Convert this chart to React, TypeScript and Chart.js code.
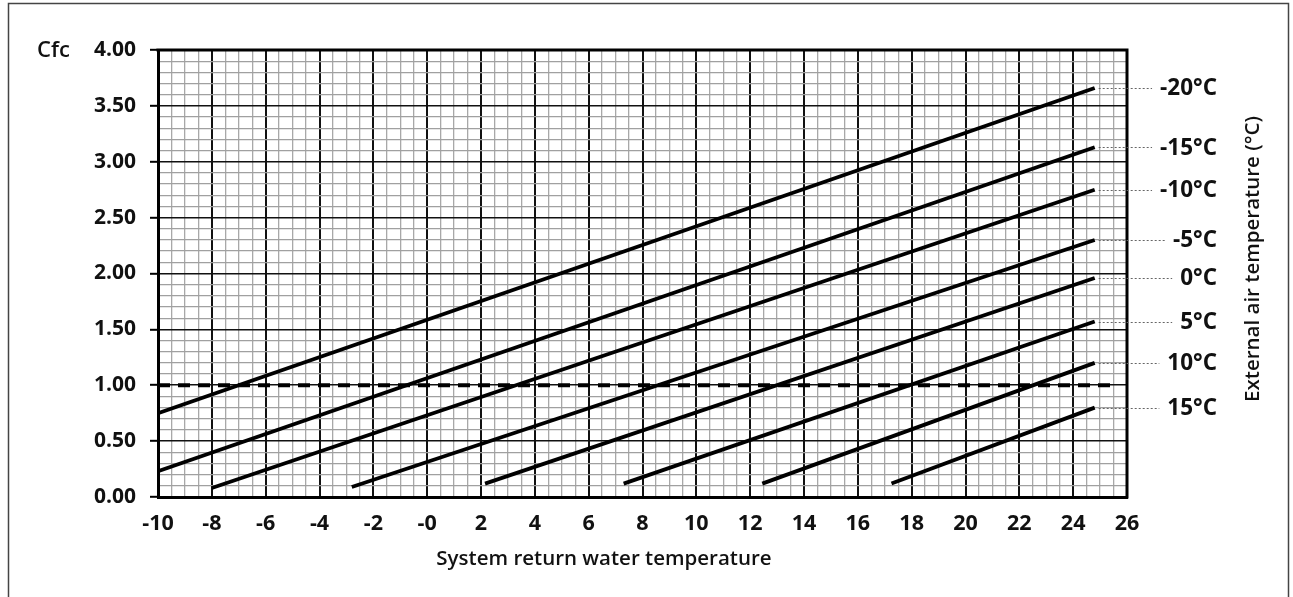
import React, { useEffect, useRef } from 'react';
import { Chart, registerables } from 'chart.js';

Chart.register(...registerables);

// ---- Data ----
const seriesNames = ['-20°C', '-15°C', '-10°C', '-5°C', '0°C', '5°C', '10°C', '15°C'];
const startX = [-10, -10, -8, -2.8, 2.15, 7.3, 12.45, 17.25];
const startY = [0.75, 0.23, 0.08, 0.09, 0.12, 0.12, 0.12, 0.12];
const endX = [24.8, 24.8, 24.8, 24.8, 24.8, 24.8, 24.8, 24.8];
const endY = [3.66, 3.13, 2.75, 2.3, 1.96, 1.57, 1.2, 0.8];

const refLineX = [-10, 25.5];
const refLineY = [1.0, 1.0];

const xTickValues = [-10, -8, -6, -4, -2, 0, 2, 4, 6, 8, 10, 12, 14, 16, 18, 20, 22, 24, 26];
const xTickLabels = ['-10', '-8', '-6', '-4', '-2', '-0', '2', '4', '6', '8', '10', '12', '14', '16', '18', '20', '22', '24', '26'];
const yTickValues = [0, 0.5, 1, 1.5, 2, 2.5, 3, 3.5, 4];
const yTickLabels = ['0.00', '0.50', '1.00', '1.50', '2.00', '2.50', '3.00', '3.50', '4.00'];

const xTitle = 'System return water temperature';
const yTitle = 'Cfc';
const rightTitle = 'External air temperature (°C)';

const X_MIN = -10, X_MAX = 26, X_MINOR = 0.5;
const Y_MIN = 0, Y_MAX = 4, Y_MINOR = 0.1;

const FONT = "'Open Sans', 'Noto Sans', sans-serif";

const near = (a: number, b: number) => Math.abs(a - b) < 1e-6;
const xMajorIdx = (v: number) => xTickValues.findIndex((t) => near(t, v));
const yMajorIdx = (v: number) => yTickValues.findIndex((t) => near(t, v));

const decorPlugin = {
  id: 'decor',
  afterDraw(chart: any) {
    const { ctx, chartArea: ca, scales } = chart;
    const xs = scales.x, ys = scales.y;
    ctx.save();
    // outer frame
    ctx.strokeStyle = '#444';
    ctx.lineWidth = 1.5;
    ctx.strokeRect(8.5, 3.5, 1280, 700);
    // plot top/right borders
    ctx.strokeStyle = '#000';
    ctx.lineWidth = 3;
    ctx.beginPath();
    ctx.moveTo(ca.left - 1.5, ca.top);
    ctx.lineTo(ca.right, ca.top);
    ctx.lineTo(ca.right, ca.bottom + 1.5);
    ctx.stroke();

    // Cfc label
    ctx.fillStyle = '#111';
    ctx.font = `600 22px ${FONT}`;
    ctx.textAlign = 'left';
    ctx.textBaseline = 'middle';
    ctx.fillText(yTitle, 37, ca.top + 1);

    // x title
    ctx.font = `600 20.5px ${FONT}`;
    ctx.textAlign = 'center';
    ctx.fillText(xTitle, ca.left + 446, ca.bottom + 62);

    // right labels with dotted leaders
    const labelRight = ca.right + 90;
    ctx.font = `bold 22.5px ${FONT}`;
    seriesNames.forEach((name, i) => {
      const px = xs.getPixelForValue(endX[i]);
      const py = ys.getPixelForValue(endY[i]);
      const w = ctx.measureText(name).width;
      ctx.strokeStyle = '#666';
      ctx.lineWidth = 1;
      ctx.setLineDash([2, 2]);
      ctx.beginPath();
      ctx.moveTo(px + 4, Math.round(py) + 0.5);
      ctx.lineTo(labelRight - w - 8, Math.round(py) + 0.5);
      ctx.stroke();
      ctx.setLineDash([]);
      ctx.fillStyle = '#111';
      ctx.textAlign = 'right';
      ctx.textBaseline = 'middle';
      ctx.fillText(name, labelRight, py + 1);
    });

    // rotated right title
    ctx.translate(ca.right + 126, ca.top + 209);
    ctx.rotate(-Math.PI / 2);
    ctx.font = `600 20.5px ${FONT}`;
    ctx.textAlign = 'center';
    ctx.textBaseline = 'middle';
    ctx.fillText(rightTitle, 0, 0);
    ctx.restore();
  },
};

export default function App() {
  const ref = useRef<HTMLCanvasElement | null>(null);
  useEffect(() => {
    if (!ref.current) return;
    const datasets: any[] = seriesNames.map((name, i) => ({
      label: name,
      data: [
        { x: startX[i], y: startY[i] },
        { x: endX[i], y: endY[i] },
      ],
      borderColor: '#000',
      borderWidth: 3.8,
      pointRadius: 0,
      fill: false,
      tension: 0,
    }));
    datasets.push({
      label: 'ref',
      data: refLineX.map((x, i) => ({ x, y: refLineY[i] })),
      borderColor: '#000',
      borderWidth: 3.8,
      borderDash: [12, 8],
      pointRadius: 0,
      fill: false,
    });
    const chart = new Chart(ref.current, {
      type: 'line',
      data: { datasets },
      plugins: [decorPlugin],
      options: {
        animation: false,
        responsive: false,
        layout: { padding: { left: 0, right: 166, top: 50, bottom: 40 } },
        plugins: { legend: { display: false }, tooltip: { enabled: false } },
        scales: {
          x: {
            type: 'linear',
            min: X_MIN,
            max: X_MAX,
            afterBuildTicks: (s: any) => {
              const t = [];
              for (let k = 0; k <= Math.round((X_MAX - X_MIN) / X_MINOR); k++) t.push({ value: X_MIN + k * X_MINOR });
              s.ticks = t;
            },
            afterFit: (s: any) => { s.height = 60; },
            border: { display: true, color: '#000', width: 3 },
            grid: {
              drawTicks: false,
              color: (c: any) => (xMajorIdx(c.tick.value) >= 0 ? '#111' : '#a8a8a8'),
              lineWidth: (c: any) => (xMajorIdx(c.tick.value) >= 0 ? 2 : 1.3),
            },
            ticks: {
              autoSkip: false,
              maxRotation: 0,
              padding: 14,
              color: '#111',
              font: { family: FONT, size: 21.5, weight: 'bold' },
              callback: (v: any) => {
                const i = xMajorIdx(Number(v));
                return i >= 0 ? xTickLabels[i] : '';
              },
            },
          },
          y: {
            type: 'linear',
            min: Y_MIN,
            max: Y_MAX,
            afterBuildTicks: (s: any) => {
              const t = [];
              for (let k = 0; k <= Math.round((Y_MAX - Y_MIN) / Y_MINOR); k++) t.push({ value: Y_MIN + k * Y_MINOR });
              s.ticks = t;
            },
            afterFit: (s: any) => { s.width = 158; },
            border: { display: true, color: '#000', width: 3 },
            grid: {
              tickLength: 8,
              color: (c: any) => (yMajorIdx(c.tick.value) >= 0 ? '#111' : '#a0a0a0'),
              tickColor: (c: any) => (yMajorIdx(c.tick.value) >= 0 ? '#000' : 'rgba(0,0,0,0)'),
              lineWidth: (c: any) => (yMajorIdx(c.tick.value) >= 0 ? 1.6 : 1.3),
              tickWidth: 2,
            },
            ticks: {
              autoSkip: false,
              padding: 14,
              color: '#111',
              font: { family: FONT, size: 21, weight: 'bold' },
              callback: (v: any) => {
                const i = yMajorIdx(Number(v));
                return i >= 0 ? yTickLabels[i] : '';
              },
            },
          },
        },
      },
    });
    return () => chart.destroy();
  }, []);
  return (
    <canvas
      ref={ref}
      width={1293}
      height={597}
      style={{ position: 'absolute', left: 0, top: 0, width: 1293, height: 597, display: 'block' }}
    />
  );
}
